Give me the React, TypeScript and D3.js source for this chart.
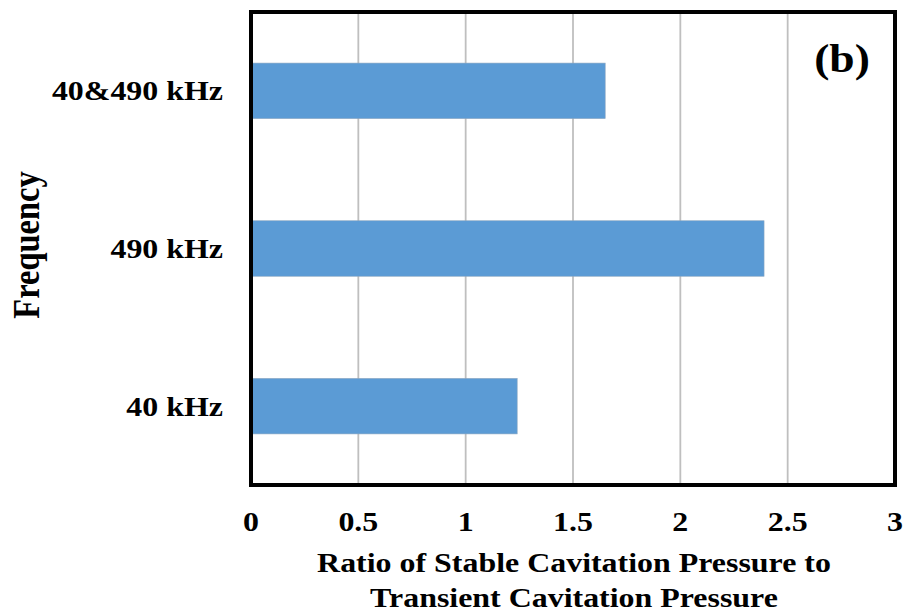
import React from "react";
import * as d3 from "d3";

const categories = ["40 kHz", "490 kHz", "40&490 kHz"];
const ratios = [1.24, 2.39, 1.65];
const xTicks = [0, 0.5, 1, 1.5, 2, 2.5, 3];
const xTitleLines = ["Ratio of Stable Cavitation Pressure to", "Transient Cavitation Pressure"];
const yTitle = "Frequency";
const panelLabel = "(b)";

const W = 904;
const H = 614;
const left = 251;
const right = 895;
const top = 12;
const bottom = 485;
const SX = 1.14;
const FONT = "'Liberation Serif', 'Times New Roman', serif";

export default function App() {
  const x = d3.scaleLinear().domain([0, 3]).range([left, right]);
  const y = d3
    .scaleBand<string>()
    .domain([...categories].reverse())
    .range([top, bottom])
    .paddingInner(0.648)
    .paddingOuter(0.324);

  const T = (tx: number, ty: number) => `translate(${tx},${ty}) scale(${SX},1)`;

  return (
    <svg
      width={W}
      height={H}
      style={{ position: "absolute", left: 0, top: 0, background: "#fff" }}
      fontFamily={FONT}
      fontWeight="bold"
    >
      <rect x={0} y={0} width={W} height={H} fill="#fff" />
      {xTicks.slice(1, -1).map((t) => (
        <line
          key={t}
          x1={x(t)}
          x2={x(t)}
          y1={top}
          y2={bottom}
          stroke="#bfbfbf"
          strokeWidth={1.8}
        />
      ))}
      {categories.map((c, i) => (
        <rect
          key={c}
          x={x(0)}
          y={y(c)}
          width={x(ratios[i]) - x(0)}
          height={y.bandwidth()}
          fill="#5B9BD5"
          stroke="#8aa6c0"
          strokeWidth={0.6}
        />
      ))}
      <rect
        x={left}
        y={top}
        width={right - left}
        height={bottom - top}
        fill="none"
        stroke="#000"
        strokeWidth={4}
      />
      {xTicks.map((t) => (
        <text key={t} transform={T(x(t), 531)} textAnchor="middle" fontSize={28}>
          {t}
        </text>
      ))}
      {categories.map((c) => (
        <text
          key={c}
          transform={T(223, (y(c) ?? 0) + y.bandwidth() / 2 + 9.5)}
          textAnchor="end"
          fontSize={28}
        >
          {c}
        </text>
      ))}
      {xTitleLines.map((l, i) => (
        <text
          key={l}
          transform={T(574, 572 + i * 35)}
          textAnchor="middle"
          fontSize={28}
        >
          {l}
        </text>
      ))}
      <text
        transform={`translate(39, 245) scale(${SX},1) rotate(-90)`}
        textAnchor="middle"
        fontSize={32.5}
      >
        {yTitle}
      </text>
      <text transform={T(842, 72)} textAnchor="middle" fontSize={40}>
        {panelLabel}
      </text>
    </svg>
  );
}
